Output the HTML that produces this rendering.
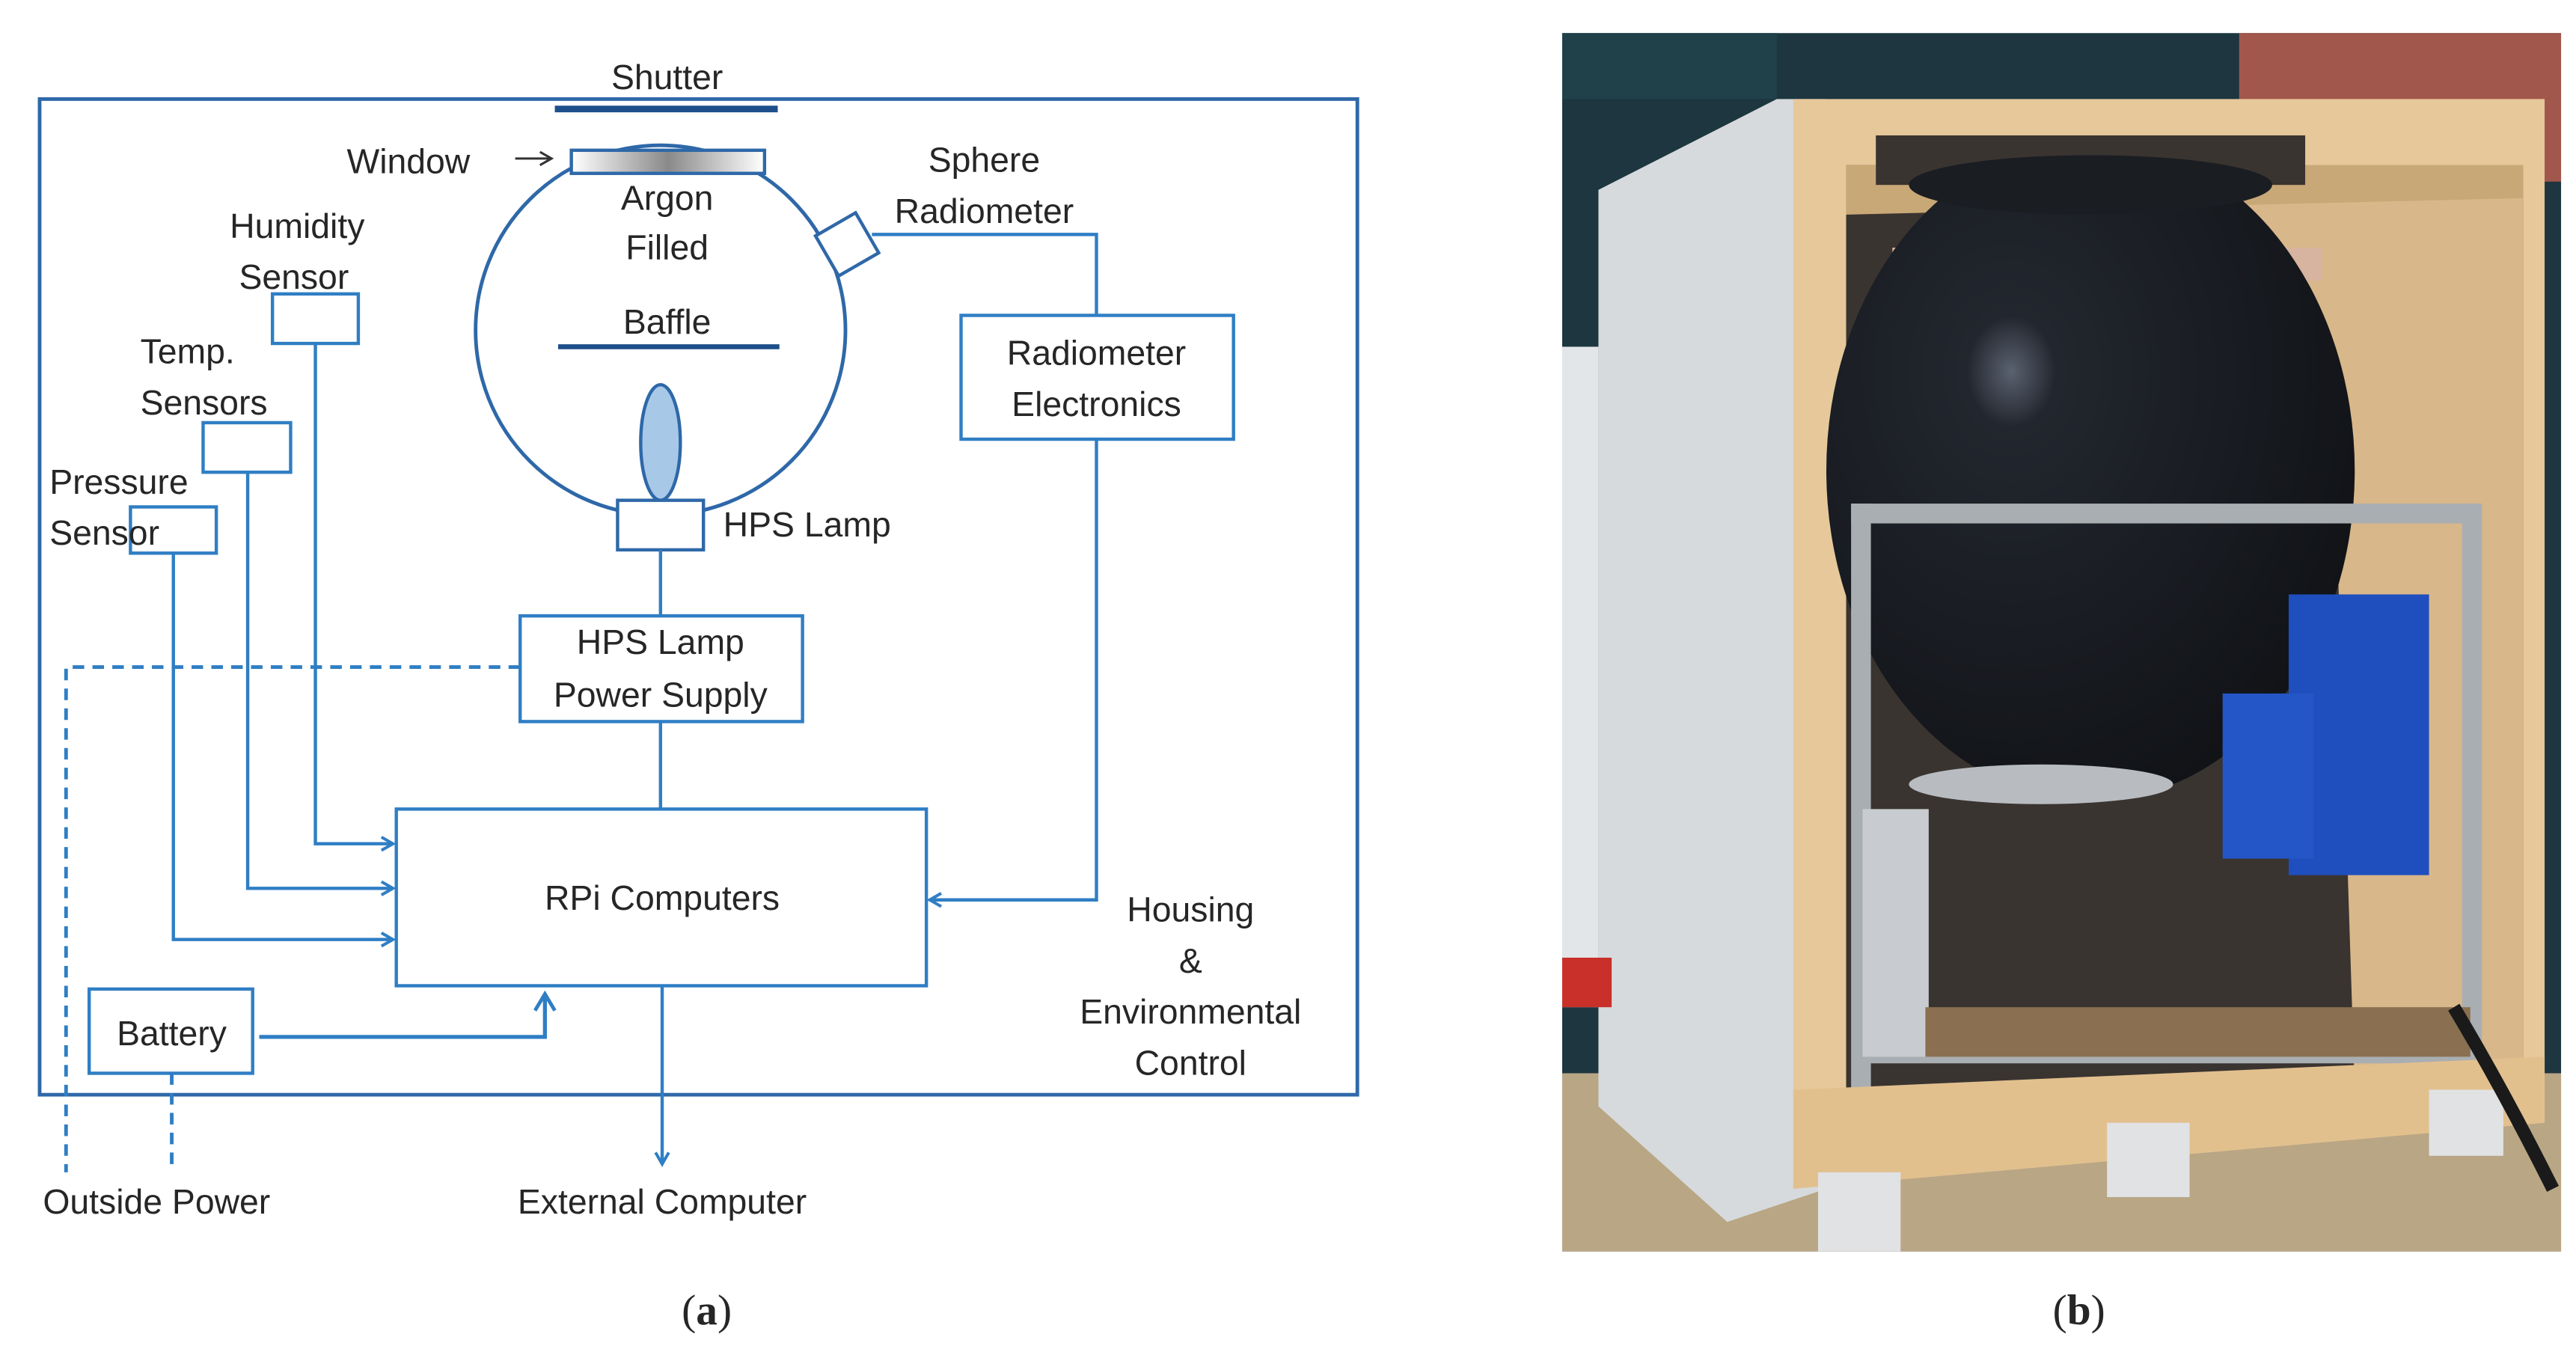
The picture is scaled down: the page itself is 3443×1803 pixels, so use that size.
<!DOCTYPE html>
<html><head><meta charset="utf-8"><style>
html,body{margin:0;padding:0;background:#fff;width:3443px;height:1803px;overflow:hidden}
svg{display:block}
text{font-family:"Liberation Sans",sans-serif;fill:#262626}
</style></head><body>
<svg width="3443" height="1803" viewBox="0 0 1560 817" preserveAspectRatio="none" xmlns="http://www.w3.org/2000/svg">
<defs>
<linearGradient id="win" x1="0" x2="1"><stop offset="0" stop-color="#fff"/><stop offset="0.5" stop-color="#8a8a8a"/><stop offset="1" stop-color="#fff"/></linearGradient>
<radialGradient id="sph" cx="0.35" cy="0.35" r="0.7"><stop offset="0" stop-color="#5a6270"/><stop offset="0.12" stop-color="#22262e"/><stop offset="1" stop-color="#111317"/></radialGradient>
<marker id="ar" markerWidth="10" markerHeight="10" refX="8" refY="5" orient="auto" markerUnits="userSpaceOnUse"><path d="M1,1 L8,5 L1,9" fill="none" stroke="#2f7ec4" stroke-width="1.8"/></marker>
<marker id="ar3" markerWidth="14" markerHeight="14" refX="11" refY="7" orient="auto" markerUnits="userSpaceOnUse"><path d="M1,1 L11,7 L1,13" fill="none" stroke="#2f7ec4" stroke-width="2.2"/></marker>
<marker id="ar2" markerWidth="10" markerHeight="10" refX="8" refY="5" orient="auto" markerUnits="userSpaceOnUse"><path d="M1,1 L8,5 L1,9" fill="none" stroke="#333" stroke-width="1.4"/></marker>
</defs>
<g fill="none" stroke="#2e68a8" stroke-width="2.2">
<rect x="24" y="60" width="798" height="603"/>
<circle cx="400" cy="200" r="112" fill="#fff"/>
</g>
<line x1="336" y1="66" x2="471" y2="66" stroke="#1e4f8a" stroke-width="4"/>
<rect x="346" y="91" width="117" height="14" fill="url(#win)" stroke="#2e68a8" stroke-width="2"/>
<line x1="338" y1="210" x2="472" y2="210" stroke="#1e4f8a" stroke-width="3"/>
<ellipse cx="400" cy="268" rx="12" ry="35" fill="#a8c8e8" stroke="#2e68a8" stroke-width="2"/>
<g fill="#fff" stroke="#2e68a8" stroke-width="2">
<rect x="374" y="303" width="52" height="30"/>
<rect x="499" y="134" width="28" height="28" transform="rotate(-30 513 148)"/>
</g>
<g fill="#fff" stroke="#2f7ec4" stroke-width="2">
<rect x="582" y="191" width="165" height="75"/>
<rect x="315" y="373" width="171" height="64"/>
<rect x="240" y="490" width="321" height="107"/>
<rect x="165" y="178" width="52" height="30"/>
<rect x="123" y="256" width="53" height="30"/>
<rect x="79" y="307" width="52" height="28"/>
<rect x="54" y="599" width="99" height="51"/>
</g>
<g fill="none" stroke="#2f7ec4" stroke-width="2">
<polyline points="528,142 664,142 664,191"/>
<polyline points="664,266 664,545 563,545" marker-end="url(#ar)"/>
<line x1="400" y1="333" x2="400" y2="373"/>
<line x1="400" y1="437" x2="400" y2="490"/>
<line x1="401" y1="597" x2="401" y2="705" marker-end="url(#ar)"/>
<polyline points="191,208 191,511 238,511" marker-end="url(#ar)"/>
<polyline points="150,286 150,538 238,538" marker-end="url(#ar)"/>
<polyline points="105,335 105,569 238,569" marker-end="url(#ar)"/>
<polyline points="157,628 330,628 330,602" stroke-width="2.4" marker-end="url(#ar3)"/>
<polyline points="315,404 40,404 40,710" stroke-dasharray="7,5" stroke-width="2.2"/>
<line x1="104" y1="650" x2="104" y2="708" stroke-dasharray="7,5" stroke-width="2.2"/>
</g>
<line x1="312" y1="96" x2="334" y2="96" stroke="#333" stroke-width="1.4" marker-end="url(#ar2)"/>
<g font-size="21">
<text x="404" y="54" text-anchor="middle">Shutter</text>
<text x="210" y="105">Window</text>
<text x="404" y="127" text-anchor="middle">Argon</text>
<text x="404" y="157" text-anchor="middle">Filled</text>
<text x="404" y="202" text-anchor="middle">Baffle</text>
<text x="438" y="325">HPS Lamp</text>
<text x="596" y="104" text-anchor="middle">Sphere</text>
<text x="596" y="135" text-anchor="middle">Radiometer</text>
<text x="664" y="221" text-anchor="middle">Radiometer</text>
<text x="664" y="252" text-anchor="middle">Electronics</text>
<text x="400" y="396" text-anchor="middle">HPS Lamp</text>
<text x="400" y="428" text-anchor="middle">Power Supply</text>
<text x="401" y="551" text-anchor="middle">RPi Computers</text>
<text x="180" y="144" text-anchor="middle">Humidity</text>
<text x="178" y="175" text-anchor="middle">Sensor</text>
<text x="85" y="220">Temp.</text>
<text x="85" y="251">Sensors</text>
<text x="30" y="299">Pressure</text>
<text x="30" y="330">Sensor</text>
<text x="104" y="633" text-anchor="middle">Battery</text>
<text x="721" y="558" text-anchor="middle">Housing</text>
<text x="721" y="589" text-anchor="middle">&amp;</text>
<text x="721" y="620" text-anchor="middle">Environmental</text>
<text x="721" y="651" text-anchor="middle">Control</text>
<text x="26" y="735">Outside Power</text>
<text x="401" y="735" text-anchor="middle">External Computer</text>
</g>
<g font-size="26">
<text x="428" y="802" text-anchor="middle" style="font-family:'Liberation Serif',serif">(<tspan font-weight="bold">a</tspan>)</text>
<text x="1259" y="802" text-anchor="middle" style="font-family:'Liberation Serif',serif">(<tspan font-weight="bold">b</tspan>)</text>
</g>
<!-- photo -->
<svg x="946" y="20" width="605" height="738" viewBox="0 0 605 738" preserveAspectRatio="none">
<rect width="605" height="738" fill="#1d3640"/>
<rect x="0" y="0" width="130" height="40" fill="#20404a"/>
<rect x="410" y="0" width="195" height="90" fill="#a2574c"/>
<rect x="0" y="630" width="605" height="108" fill="#b9a685"/>
<polygon points="22,95 130,40 160,40 160,700 100,720 22,650" fill="#d6dadc"/>
<rect x="0" y="190" width="22" height="400" fill="#e3e6e8"/>
<rect x="0" y="560" width="30" height="30" fill="#c9302a"/>
<polygon points="140,40 595,40 595,660 140,700" fill="#e6c89a"/>
<rect x="172" y="80" width="410" height="560" fill="#3a3430"/>
<polygon points="360,80 582,80 582,640 480,640 470,330 360,330" fill="#d8b78a"/>
<polygon points="172,80 582,80 582,100 172,110" fill="#c9a877"/>
<rect x="200" y="130" width="260" height="20" fill="#d6b4a0"/>
<ellipse cx="320" cy="265" rx="160" ry="200" fill="url(#sph)"/>
<rect x="190" y="62" width="260" height="30" fill="#3a3430"/>
<ellipse cx="320" cy="92" rx="110" ry="18" fill="#1a1d22"/>
<rect x="175" y="285" width="380" height="12" fill="#a9aeb2"/>
<rect x="175" y="285" width="12" height="360" fill="#a9aeb2"/>
<rect x="545" y="285" width="12" height="330" fill="#a9aeb2"/>
<rect x="185" y="610" width="370" height="14" fill="#a9aeb2"/>
<rect x="182" y="470" width="40" height="150" fill="#c8ccd0"/>
<ellipse cx="290" cy="455" rx="80" ry="12" fill="#b8bcc0"/>
<rect x="440" y="340" width="85" height="170" fill="#1f4fbf"/>
<rect x="400" y="400" width="55" height="100" fill="#2456c8"/>
<rect x="220" y="590" width="330" height="30" fill="#8a7050"/>
<polygon points="140,640 595,620 595,660 140,700" fill="#e2c08e"/>
<rect x="155" y="690" width="50" height="48" fill="#e0e2e4"/>
<rect x="330" y="660" width="50" height="45" fill="#e0e2e4"/>
<rect x="525" y="640" width="45" height="40" fill="#e0e2e4"/>
<path d="M540 590 Q 570 640 600 700" stroke="#1a1a1a" stroke-width="8" fill="none"/>
</svg>
</svg>
</body></html>
